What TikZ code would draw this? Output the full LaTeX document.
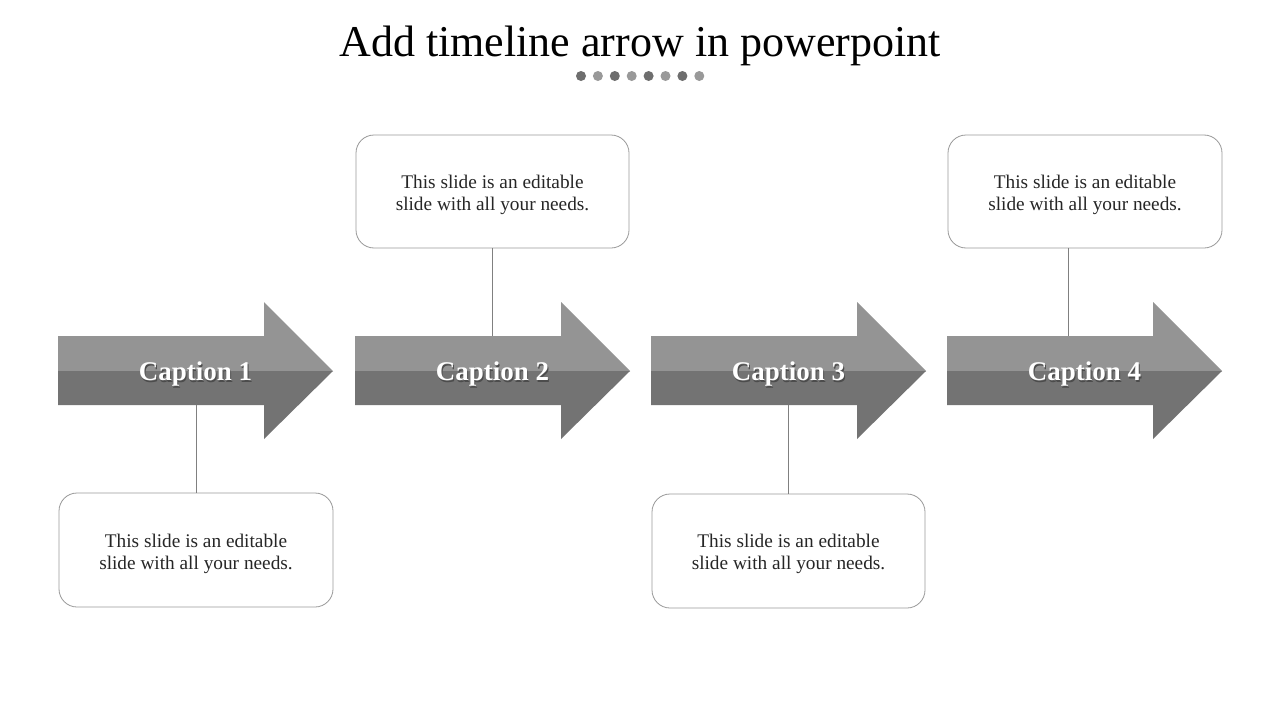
\documentclass[tikz,border=0pt]{standalone}
\usepackage{fontspec}
\setmainfont{Liberation Serif}
\begin{document}
\begin{tikzpicture}[x=1pt,y=-1pt,
  infobox/.style={draw=black!40, line width=0.8pt, rounded corners=18pt, fill=white},
  boxtext/.style={align=center, font=\fontsize{19.3}{22}\selectfont, text=black!85},
  capt/.style={font=\bfseries\fontsize{27}{30}\selectfont, text=white},
  captsh/.style={font=\bfseries\fontsize{27}{30}\selectfont, text=black!70},
  link/.style={draw=black!50, line width=0.8pt},
  dotA/.style={fill=black!57, draw=none},
  dotB/.style={fill=black!40, draw=none}]
\useasboundingbox (0,0) rectangle (1280,720);
\fill[white] (0,0) rectangle (1280,720);
\node[font=\fontsize{44}{50}\selectfont] (title) at (640,46) {Add timeline arrow in powerpoint};
\foreach \i in {0,...,7}{
  \pgfmathsetmacro{\xx}{581+\i*16.9}
  \ifodd\i \fill[dotB] (\xx,76) circle (5); \else \fill[dotA] (\xx,76) circle (5); \fi
}
% arrows
\foreach \n/\x in {1/58,2/355,3/651,4/947}{
  \fill[black!42] (\x,336) -- (\x+206,336) -- (\x+206,302) -- (\x+275,371) -- (\x,371) -- cycle;
  \fill[black!55] (\x,371) -- (\x+275,371) -- (\x+206,439) -- (\x+206,405) -- (\x,405) -- cycle;
}
\node[captsh] at (196.5,376) {Caption 1};
\node[capt] (c1) at (195.5,374.5) {Caption 1};
\node[captsh] at (493.5,376) {Caption 2};
\node[capt] (c2) at (492.5,374.5) {Caption 2};
\node[captsh] at (789.5,376) {Caption 3};
\node[capt] (c3) at (788.5,374.5) {Caption 3};
\node[captsh] at (1085.5,376) {Caption 4};
\node[capt] (c4) at (1084.5,374.5) {Caption 4};
% boxes
\draw[infobox] (59,493) rectangle (333,607);
\node[boxtext] (t1) at (196,553.5) {This slide is an editable\\slide with all your needs.};
\draw[infobox] (356,135) rectangle (629,248);
\node[boxtext] (t2) at (492.5,194.5) {This slide is an editable\\slide with all your needs.};
\draw[infobox] (652,494) rectangle (925,608);
\node[boxtext] (t3) at (788.5,553.5) {This slide is an editable\\slide with all your needs.};
\draw[infobox] (948,135) rectangle (1222,248);
\node[boxtext] (t4) at (1085,194.5) {This slide is an editable\\slide with all your needs.};
% connectors
\coordinate (b1) at (196,493);
\coordinate (b2) at (492,248);
\coordinate (b3) at (788,494);
\coordinate (b4) at (1068,248);
\coordinate (a1) at (196,405);
\coordinate (a2) at (492,336);
\coordinate (a3) at (788,405);
\coordinate (a4) at (1068,336);
\draw[link] (a1) -- (b1);
\draw[link] (b2) -- (a2);
\draw[link] (a3) -- (b3);
\draw[link] (b4) -- (a4);
\end{tikzpicture}
\end{document}
